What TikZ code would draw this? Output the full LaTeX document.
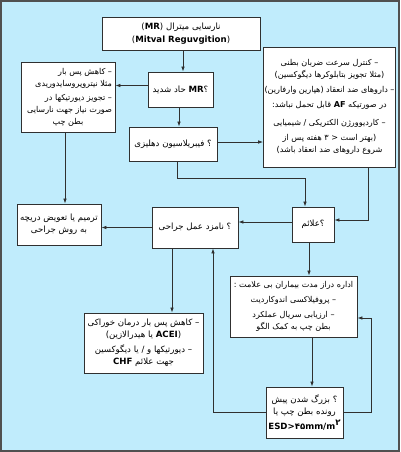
\documentclass[tikz,border=0pt]{standalone}
\usepackage{fontspec}
\usetikzlibrary{arrows.meta}
\newfontfamily\persianfont[Script=Arabic]{DejaVu Sans}
\newfontfamily\latinfont{DejaVu Sans}
\TeXXeTstate=1
\definecolor{bgblue}{HTML}{C0ECFC}
\definecolor{framegray}{HTML}{505050}
\definecolor{linegray}{HTML}{303030}
\newcommand{\lat}[1]{\beginL{\latinfont\bfseries #1}\endL}
\tikzset{
  box/.style={draw=linegray, fill=white, line width=0.8pt, inner xsep=1pt, inner ysep=2pt,
    font=\persianfont\fontsize{8.6}{12.5}\selectfont, align=center},
  widebox/.style={box, font=\persianfont\fontsize{8.1}{12}\selectfont},
  arr/.style={draw=linegray, line width=0.7pt, -{Latex[length=5pt,width=3.5pt]}},
}

\begin{document}
\begin{tikzpicture}[x=1pt,y=-1pt]
                \useasboundingbox (0,0) rectangle (400,452);
                \fill[bgblue] (0,0) rectangle (400,452);
                \draw[framegray,line width=2pt] (1,1) rectangle (399,451);
                % boxes
                \node[box,minimum width=158pt,minimum height=33pt] (mitral) at (181,33.5)
                    {\beginR نارسایی میترال \beginL{\latinfont(\textbf{MR})}\endL\endR\\[1pt]
                     \beginL{\latinfont(\textbf{Mitval Reguvgition})}\endL};
                \node[box,minimum width=65pt,minimum height=35pt] (acute) at (180.5,89.5)
                    {\beginR ؟\lat{MR} حاد شدید\endR};
                \node[widebox,minimum width=94pt,minimum height=70pt,align=right] (afterload) at (68,97)
                    {\beginR – کاهش پس بار\endR\\
                     \beginR مثلا نیتروپروسایدوریدی\endR\\[2pt]
                     \beginR – تجویز دیورتیکها در\endR\\
                     \beginR صورت نیاز جهت نارسایی\endR\\
                     \hbox to 88pt{\hss\beginR بطن چپ\endR\hss}};
                \node[box,minimum width=88pt,minimum height=34pt] (atrial) at (173,144)
                    {\beginR ؟ فیبریلاسیون دهلیزی\endR};
                \node[widebox,minimum width=125pt,minimum height=120pt] (rate) at (329.5,107)
                    {\beginR – کنترل سرعت ضربان بطنی\endR\\
                     \beginR (مثلا تجویز بتابلوکرها دیگوکسین)\endR\\[3pt]
                     \beginR – داروهای ضد انعقاد (هپارین وارفارین)\endR\\[3pt]
                     \beginR در صورتیکه \lat{AF} قابل تحمل نباشد:\endR\\[6pt]
                     \beginR – کاردیوورژن الکتریکی / شیمیایی\endR\\[3pt]
                     \beginR (بهتر است {\latinfont>} ۳ هفته پس از\endR\\
                     \beginR شروع داروهای ضد انعقاد باشد)\endR};
                \node[box,minimum width=42pt,minimum height=35pt] (signs) at (313,224.5)
                    {\beginR ؟علائم\endR};
                \node[box,minimum width=86pt,minimum height=41pt] (surgery) at (195,227.5)
                    {\beginR ؟ نامزد عمل جراحی\endR};
                \node[box,minimum width=84pt,minimum height=41pt] (repair) at (59,224.5)
                    {\beginR ترمیم یا تعویض دریچه\endR\\
                     \beginR به روش جراحی\endR};
                \node[box,minimum width=119pt,minimum height=60pt] (oral) at (143.5,343)
                    {\beginR – کاهش پس بار درمان خوراکی\endR\\
                     \beginR (\lat{ACEI} یا هیدرالازین)\endR\\[2pt]
                     \beginR – دیورتیکها و / یا دیگوکسین\endR\\
                     \beginR جهت علائم \lat{CHF}\endR};
                \node[widebox,minimum width=127pt,minimum height=61pt] (followup) at (293.5,306.5)
                    {\beginR اداره دراز مدت بیماران بی علامت :\endR\\[3pt]
                     \beginR – پروفیلاکسی اندوکاردیت\endR\\[3pt]
                     \beginR – ارزیابی سریال عملکرد\endR\\
                     \beginR بطن چپ به کمک الگو\endR};
                \node[box,minimum width=77pt,minimum height=51pt] (enlarge) at (304.5,412.5)
                    {\beginR ؟ بزرگ شدن پیش\endR\\
                     \beginR رونده بطن چپ یا\endR\\[2pt]
                     {\latinfont\bfseries ESD>۴۵mm/m\raisebox{3.5pt}{۲}}};
                % connectors
                \draw[arr] ([xshift=2pt]mitral.south) -- ([xshift=2pt]mitral.south |- acute.north);
                \draw[arr] ([yshift=4pt]acute.west) -- ([yshift=4pt]acute.west -| afterload.east);
                \draw[arr] ([xshift=-1.5pt]acute.south) -- ([xshift=-1.5pt]acute.south |- atrial.north);
                \draw[arr] ([yshift=2pt]atrial.east) -- ([yshift=2pt]atrial.east -| rate.west);
                \draw[arr] ([xshift=4pt]atrial.south) -- ++(0,17) -| ([xshift=-8pt]signs.north);
                \draw[arr] ([xshift=38.5pt]rate.south) |- ([yshift=4.5pt]signs.east);
                \draw[arr] ([xshift=-3pt]afterload.south) -- ([xshift=-3pt]afterload.south |- repair.north);
                \draw[arr] ([yshift=2.5pt]signs.west) -- ([yshift=2.5pt]signs.west -| surgery.east);
                \draw[arr] (surgery.west) -- (surgery.west -| repair.east);
                \draw[arr] ([xshift=-23pt]surgery.south) -- ([xshift=-23pt]surgery.south |- oral.north);
                \draw[arr] ([xshift=-4pt]signs.south) -- ([xshift=-4pt]signs.south |- followup.north);
                \draw[arr] ([xshift=18.5pt]followup.south) -- ([xshift=18.5pt]followup.south |- enlarge.north);
                \draw[arr] (enlarge.east) -- ++(28,0) |- ([yshift=-11.5pt]followup.east);
                \draw[arr] (enlarge.west) -| ([xshift=18pt]surgery.south);
\end{tikzpicture}
\end{document}
